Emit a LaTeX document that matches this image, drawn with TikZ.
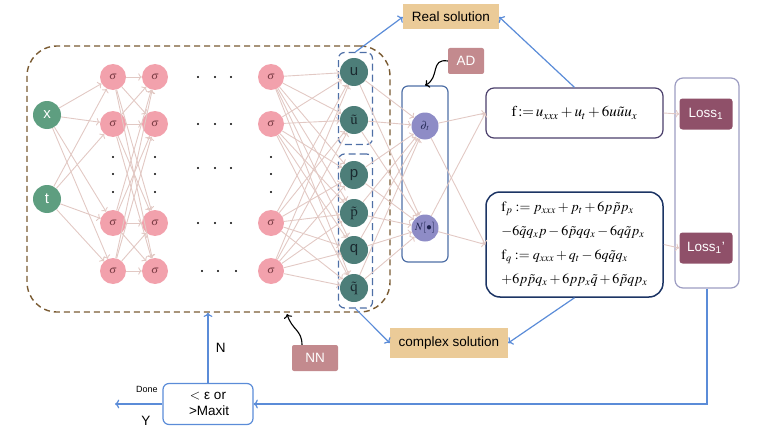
\documentclass[tikz,border=0pt]{standalone}
\usepackage{mathptmx}
\usepackage{fontspec}
\setmainfont{Liberation Sans}
\usetikzlibrary{arrows.meta}

\definecolor{inGreen}{HTML}{5E9E80}
\definecolor{outTeal}{HTML}{4D7E79}
\definecolor{outText}{HTML}{1B2A30}
\definecolor{hidPink}{HTML}{F2A1AC}
\definecolor{sigText}{HTML}{7A3B44}
\definecolor{adPurple}{HTML}{8E8CC6}
\definecolor{adText}{HTML}{1E2450}
\definecolor{edgeCol}{HTML}{E2C9C4}
\definecolor{lineBlue}{HTML}{5B8CD8}
\definecolor{grpBlue}{HTML}{4E6FA6}
\definecolor{nnBrown}{HTML}{7A5B32}
\definecolor{tanFill}{HTML}{EBCB98}
\definecolor{lossRed}{HTML}{8F5069}
\definecolor{tagRose}{HTML}{C38A8E}
\definecolor{fBorder}{HTML}{4B3F6B}
\definecolor{fqBorder}{HTML}{1C3464}
\definecolor{lossBorder}{HTML}{9C9CC2}

\begin{document}
\begin{tikzpicture}[x=1pt, y=-1pt,
    every node/.style={font=\fontsize{13.5}{16}\selectfont},
    innode/.style={circle, fill=inGreen, text=white, minimum size=28pt, inner sep=0pt, font=\fontsize{15}{15}\selectfont},
    hidnode/.style={circle, fill=hidPink, text=sigText, minimum size=26pt, inner sep=0pt, font=\fontsize{11}{11}\selectfont},
    outnode/.style={circle, fill=outTeal, text=outText, minimum size=28pt, inner sep=0pt, font=\fontsize{15}{15}\selectfont},
    adnode/.style={circle, fill=adPurple, text=adText, minimum size=27pt, inner sep=0pt, font=\fontsize{11}{11}\selectfont},
    link/.style={->, draw=edgeCol, line width=0.9pt},
    blueline/.style={->, draw=lineBlue, line width=1.2pt},
    tagbox/.style={fill=tagRose, text=white, rounded corners=2pt, minimum height=26pt, inner sep=0pt},
    solbox/.style={fill=tanFill, minimum height=25pt, inner sep=0pt},
    lossnode/.style={fill=lossRed, text=white, rounded corners=3pt, minimum width=53pt, minimum height=31pt, inner sep=0pt},
    grp/.style={draw=grpBlue, dash pattern=on 7pt off 4pt, line width=1.2pt, rounded corners=6pt, inner sep=0pt},
  ]
    \useasboundingbox (0,0) rectangle (763,436);
    % NN box
    \node[draw=nnBrown, dash pattern=on 6pt off 4pt, line width=1.4pt, rounded corners=30pt,
      minimum width=363pt, minimum height=266pt] (nnbox) at (208.5,179) {};
    % inputs
    \node[innode] (x) at (47,115) {x};
    \node[innode] (t) at (47,199) {t};
    % hidden layers
    \foreach \y [count=\i] in {77,124,223,271} {
      \node[hidnode] (a\i) at (113,\y) {$\sigma$};
      \node[hidnode] (b\i) at (155,\y) {$\sigma$};
      \node[hidnode] (c\i) at (271,\y) {$\sigma$};
    }
    \foreach \xx in {113,155,271}
      \foreach \y in {157,174,192}
        \fill (\xx,\y) circle (1.2pt);
    \foreach \y in {77,124,168,223}
      \foreach \xx in {198,215,231}
        \fill (\xx,\y) circle (1.2pt);
    \foreach \xx in {202,218,236}
      \fill (\xx,271) circle (1.2pt);
    % outputs
    \node[outnode] (u) at (354,72) {u};
    \node[outnode] (ut) at (354,120) {$\tilde{\mathrm{u}}$};
    \node[outnode] (p) at (354,175) {p};
    \node[outnode] (pt) at (354,213) {$\tilde{\mathrm{p}}$};
    \node[outnode] (q) at (354,250) {q};
    \node[outnode] (qt) at (354,288) {$\tilde{\mathrm{q}}$};
    \node[grp, minimum width=34pt, minimum height=92pt] (grpA) at (355.5,98.5) {};
    \node[grp, minimum width=34pt, minimum height=154pt] (grpB) at (355.5,231) {};
    % connections in the net
    \foreach \s in {x,t}
      \foreach \d in {1,...,4}
        \draw[link] (\s) -- (a\d);
    \foreach \s in {1,...,4}
      \foreach \d in {1,...,4}
        \draw[link] (a\s) -- (b\d);
    \foreach \s in {1,...,4}
      \foreach \d in {u,ut,p,pt,q,qt}
        \draw[link] (c\s) -- (\d);
    % AD box
    \node[draw=grpBlue, line width=1.2pt, rounded corners=6pt, minimum width=46pt, minimum height=176pt] (adbox) at (425,174) {};
    \node[adnode] (dt) at (425,126) {$\partial_{\,t}$};
    \node[adnode] (nop) at (425,228) {$N[\bullet]$};
    \foreach \s in {u,ut,p,pt,q,qt}
      \foreach \d in {dt,nop}
        \draw[link] (\s) -- (\d);
    \node[tagbox, minimum width=36pt] (adtag) at (466,61) {AD};
    \draw[->, line width=1.1pt] (adtag.west) .. controls (430,58) and (440,78) .. (adbox.north);
    % residual boxes
    \node[draw=fBorder, line width=1.2pt, rounded corners=8pt, minimum width=177pt, minimum height=50pt,
      font=\fontsize{15}{18}\selectfont] (fbox) at (574.5,113)
      {$\mathrm{f}\,{:=}\,u_{xxx}+u_t+6u\tilde{u}u_x$};
    \node[draw=fqBorder, line width=1.5pt, rounded corners=14pt, minimum width=177pt, minimum height=105pt, align=left,
      font=\fontsize{14}{24}\selectfont] (fpq) at (574.5,244.5)
      {$\mathrm{f}_p := p_{xxx}+p_t+6p\tilde{p}p_x$\\
       $-6\tilde{q}q_xp-6\tilde{p}qq_x-6q\tilde{q}p_x$\\
       $\mathrm{f}_q := q_{xxx}+q_t-6q\tilde{q}q_x$\\
       $+6p\tilde{p}q_x+6pp_x\tilde{q}+6\tilde{p}qp_x$};
    \foreach \s in {dt,nop}
      \foreach \d in {fbox,fpq}
        \draw[link] (\s) -- (\d.west);
    % losses
    \node[draw=lossBorder, line width=1.2pt, rounded corners=8pt, minimum width=64pt, minimum height=210pt] (lossbox) at (707,183) {};
    \node[lossnode] (loss1) at (706,114) {Loss\textsubscript{1}};
    \node[lossnode] (loss2) at (706,248) {Loss\textsubscript{1}'};
    \draw[link] (fbox.east) -- (loss1.west);
    \draw[link] (fpq.east) -- (loss2.west);
    % solutions
    \node[solbox, minimum width=96pt] (real) at (451,17) {Real solution};
    \node[solbox, minimum width=118pt, minimum height=30pt] (cplx) at (449,343) {complex solution};
    \draw[blueline] (grpA.north) -- (real.west);
    \draw[blueline] (fbox.north) -- (real.east);
    \draw[blueline] (grpB.south) -- (cplx.west);
    \draw[blueline] (fpq.south) -- (cplx.east);
    % stopping test
    \node[draw=lineBlue, line width=1.2pt, rounded corners=6pt, minimum width=90pt, minimum height=41pt, align=center,
      inner sep=0pt] (crit) at (208,404) {$<$ ε or\\ \,>Maxit};
    \draw[blueline] (lossbox.south) |- (crit.east);
    \draw[blueline] (crit.north) -- (crit.north |- nnbox.south) node[midway, right=4pt, text=black] {N};
    \coordinate (doneEnd) at (115,404);
    \draw[blueline] (crit.west) -- (doneEnd);
    \node[font=\fontsize{9}{9}\selectfont] (done) at (147,389) {Done};
    \node (yes) at (146,421) {Y};
    % NN tag
    \node[tagbox, minimum width=46pt] (nntag) at (315,358) {NN};
    \coordinate (nnpoint) at (287,314);
    \draw[->, line width=1.1pt] ([xshift=-13pt]nntag.north) .. controls (302,330) and (292,330) .. (nnpoint);
\end{tikzpicture}
\end{document}
